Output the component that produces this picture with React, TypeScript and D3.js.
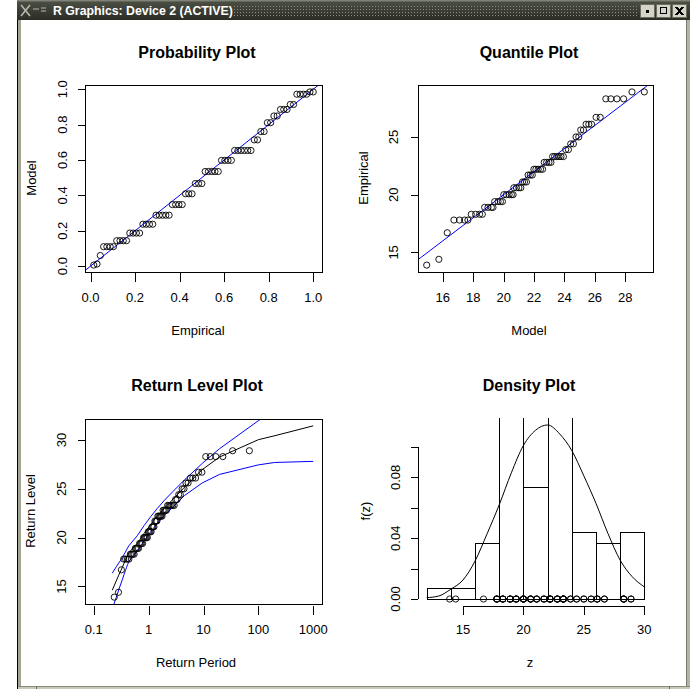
import React from "react";
import * as d3 from "d3";

// observed values (deg C) and how many times each one occurs
const tempValues = [13.9, 14.4, 16.7, 17.8, 18.3, 18.9, 19.4, 20.0, 20.6, 21.1, 21.7, 22.2, 22.8, 23.3, 23.9, 24.4, 25.0, 25.6, 26.1, 26.7, 28.3, 28.9];
const tempCounts = [1, 1, 1, 4, 4, 4, 4, 5, 4, 3, 3, 5, 4, 6, 2, 2, 2, 2, 3, 2, 4, 2];

// fitted model cdf at each distinct value (probability plot)
const modelProb = [0.006, 0.012, 0.06, 0.11, 0.144, 0.187, 0.237, 0.288, 0.348, 0.409, 0.467, 0.535, 0.598, 0.654, 0.714, 0.761, 0.811, 0.849, 0.886, 0.914, 0.972, 0.985];

// fitted model quantiles, one per ordered observation (quantile plot)
const modelQuantiles = [
  14.94, 15.74, 16.29, 16.73, 17.1, 17.43, 17.65, 17.87, 18.16, 18.42, 18.6, 18.75, 18.97, 19.19, 19.3,
  19.41, 19.63, 19.79, 19.92, 20.01, 20.18, 20.36, 20.51, 20.62, 20.67, 20.84, 21.0, 21.13, 21.24, 21.37,
  21.5, 21.61, 21.75, 21.88, 21.99, 22.12, 22.27, 22.43, 22.56, 22.67, 22.83, 22.98, 23.11, 23.22, 23.35,
  23.49, 23.64, 23.77, 23.93, 24.08, 24.26, 24.41, 24.59, 24.76, 24.94, 25.07, 25.25, 25.42, 25.6, 25.78,
  26.08, 26.35, 26.72, 27.05, 27.45, 27.89, 28.44, 29.25,
];

// return level curve with its 95% bounds
const returnPeriods = [0.217, 0.256, 0.285, 0.311, 0.334, 0.355, 0.376, 0.396, 0.415, 0.434, 0.621, 0.831, 1.091, 1.443, 1.958, 2.804, 4.481, 9.491, 19.5, 99.5, 199.5, 999.5];
const rlEstimate = [14.6, 15.55, 16.15, 16.6, 17.0, 17.35, 17.65, 17.95, 18.2, 18.45, 19.4, 20.45, 21.35, 22.2, 23.05, 23.95, 25.15, 26.97, 28.25, 30.03, 30.44, 31.45];
const rlUpper = [16.35, 17.0, 17.4, 17.7, 18.0, 18.27, 18.5, 18.75, 18.95, 19.15, 20.2, 21.25, 22.15, 23.0, 23.85, 24.75, 25.9, 27.6, 29.1, 31.97, 33.04, 35.75];
const rlLower = [12.7, 13.85, 14.65, 15.25, 15.75, 16.2, 16.6, 16.95, 17.25, 17.55, 18.6, 19.7, 20.6, 21.45, 22.3, 23.15, 24.3, 25.6, 26.47, 27.45, 27.7, 27.81];
const rlTicks = [0.1, 1, 10, 100, 1000];

// fitted density
const densityZ = [12, 13, 14, 15, 16, 17, 18, 19, 20, 21, 22, 23, 24, 25, 26, 27, 28, 29, 30];
const densityF = [0.0009, 0.002, 0.0065, 0.0125, 0.025, 0.043, 0.062, 0.083, 0.101, 0.111, 0.1145, 0.1086, 0.0977, 0.081, 0.063, 0.043, 0.0256, 0.0147, 0.008];
const histBreaks = [12, 14, 16, 18, 20, 22, 24, 26, 28, 30];

const FONT = "'Liberation Sans', Arial, Helvetica, sans-serif";
const BLUE = "#0000ff";

// R pads the data range by 4% on each side
function rRange(lo: number, hi: number): [number, number] {
  const d = (hi - lo) * 0.04;
  return [lo - d, hi + d];
}

type Box = { x0: number; x1: number; y0: number; y1: number };

const ppBox: Box = { x0: 85, x1: 322, y0: 85, y1: 272 };
const qqBox: Box = { x0: 418, x1: 653, y0: 85, y1: 272 };
const rlBox: Box = { x0: 85, x1: 322, y0: 419, y1: 604 };
const dnBox: Box = { x0: 418, x1: 653, y0: 418, y1: 606 };

function frame(b: Box) {
  return <rect x={b.x0 + 0.5} y={b.y0 + 0.5} width={b.x1 - b.x0} height={b.y1 - b.y0} fill="none" stroke="#000" shapeRendering="crispEdges" />;
}

function xAxis(scale: (v: number) => number, ticks: number[], labels: string[], top: number, labelY: number, withLine = false) {
  return (
    <g shapeRendering="crispEdges">
      {withLine && <line x1={scale(ticks[0])} x2={scale(ticks[ticks.length - 1])} y1={top + 0.5} y2={top + 0.5} stroke="#000" />}
      {ticks.map((t, i) => (
        <g key={i}>
          <line x1={Math.round(scale(t)) + 0.5} x2={Math.round(scale(t)) + 0.5} y1={top} y2={top + 9} stroke="#000" />
          {labels[i] && (
            <text x={scale(t)} y={labelY} textAnchor="middle" dominantBaseline="central" fontSize={13} fontFamily={FONT}>
              {labels[i]}
            </text>
          )}
        </g>
      ))}
    </g>
  );
}

function yAxis(scale: (v: number) => number, ticks: number[], labels: string[], left: number, labelX: number, withLine = false) {
  return (
    <g shapeRendering="crispEdges">
      {withLine && <line x1={left + 0.5} x2={left + 0.5} y1={scale(ticks[0])} y2={scale(ticks[ticks.length - 1])} stroke="#000" />}
      {ticks.map((t, i) => (
        <g key={i}>
          <line x1={left - 7} x2={left} y1={Math.round(scale(t)) + 0.5} y2={Math.round(scale(t)) + 0.5} stroke="#000" />
          {labels[i] && (
            <text transform={`translate(${labelX},${scale(t)}) rotate(-90)`} textAnchor="middle" dominantBaseline="central" fontSize={13} fontFamily={FONT}>
              {labels[i]}
            </text>
          )}
        </g>
      ))}
    </g>
  );
}

function label(x: number, y: number, text: string, rotate = false, bold = false, size = 13) {
  return (
    <text
      transform={`translate(${x},${y})${rotate ? " rotate(-90)" : ""}`}
      textAnchor="middle"
      dominantBaseline="central"
      fontSize={size}
      fontWeight={bold ? "bold" : "normal"}
      fontFamily={FONT}
    >
      {text}
    </text>
  );
}

export default function App() {
  const sample = tempValues.flatMap((v, i) => d3.range(tempCounts[i]).map(() => v));
  const sampleProb = tempValues.flatMap((v, i) => d3.range(tempCounts[i]).map(() => modelProb[i]));
  const n = sample.length;
  const empirical = sample.map((_, i) => (i + 1) / n);
  const empPeriod = sample.map((_, i) => -1 / Math.log((i + 1) / (n + 1)));

  // probability plot
  const ppX = d3.scaleLinear().domain(rRange(d3.min(empirical)!, d3.max(empirical)!)).range([ppBox.x0, ppBox.x1]);
  const ppY = d3.scaleLinear().domain(rRange(d3.min(sampleProb)!, d3.max(sampleProb)!)).range([ppBox.y1, ppBox.y0]);
  const unitTicks = [0, 0.2, 0.4, 0.6, 0.8, 1.0];
  const fmt1 = d3.format(".1f");

  // quantile plot
  const qqX = d3.scaleLinear().domain(rRange(d3.min(modelQuantiles)!, d3.max(modelQuantiles)!)).range([qqBox.x0, qqBox.x1]);
  const qqY = d3.scaleLinear().domain(rRange(d3.min(sample)!, d3.max(sample)!)).range([qqBox.y1, qqBox.y0]);
  const qqXTicks = [16, 18, 20, 22, 24, 26, 28];
  const qqYTicks = [15, 20, 25];

  // return level plot
  const lg = rRange(-1, 3);
  const rlX = d3.scaleLog().domain([Math.pow(10, lg[0]), Math.pow(10, lg[1])]).range([rlBox.x0, rlBox.x1]);
  const rlY = d3
    .scaleLinear()
    .domain(rRange(Math.min(d3.min(sample)!, d3.min(rlEstimate)!), Math.max(d3.max(sample)!, d3.max(rlEstimate)!)))
    .range([rlBox.y1, rlBox.y0]);
  const rlLine = (vals: number[]) =>
    d3
      .line<number>()
      .x((_, i) => rlX(returnPeriods[i]))
      .y((v) => rlY(v))(vals)!;

  // density plot
  const dnX = d3.scaleLinear().domain(rRange(histBreaks[0], histBreaks[histBreaks.length - 1])).range([dnBox.x0, dnBox.x1]);
  const dnY = d3.scaleLinear().domain(rRange(0, d3.max(densityF)!)).range([dnBox.y1, dnBox.y0]);
  // R bins are closed on the right
  const bins = d3
    .bin<number, number>()
    .value((d) => d - 1e-9)
    .domain([histBreaks[0], histBreaks[histBreaks.length - 1]])
    .thresholds(histBreaks.slice(1, -1))(sample);
  const densLine = d3
    .line<number>()
    .x((_, i) => dnX(densityZ[i]))
    .y((v) => dnY(v))
    .curve(d3.curveMonotoneX)(densityF)!;

  return (
    <svg width={690} height={689} style={{ position: "absolute", left: 0, top: 0, display: "block" }} fontFamily={FONT}>
      <defs>
        <linearGradient id="tbar" x1="0" y1="0" x2="0" y2="1">
          <stop offset="0" stopColor="#8e9084" />
          <stop offset="0.12" stopColor="#4a4d42" />
          <stop offset="1" stopColor="#2b2d25" />
        </linearGradient>
        <pattern id="dots" width="3" height="3" patternUnits="userSpaceOnUse">
          <rect width="1" height="1" fill="#8c8e82" />
        </pattern>
        {[ppBox, qqBox, rlBox, dnBox].map((b, i) => (
          <clipPath id={`clip${i}`} key={i}>
            <rect x={b.x0} y={b.y0} width={b.x1 - b.x0 + 1} height={b.y1 - b.y0 + 1} />
          </clipPath>
        ))}
      </defs>

      {/* window chrome */}
      <rect x={0} y={0} width={690} height={689} fill="#fff" />
      <rect x={17} y={0} width={673} height={20} fill="url(#tbar)" />
      <rect x={234} y={5} width={403} height={12} fill="url(#dots)" />
      <g stroke="#b8b8b0" strokeWidth={1.6}>
        <line x1={21} y1={5} x2={30} y2={16} />
        <line x1={30} y1={5} x2={21} y2={16} />
        <line x1={33} y1={9} x2={39} y2={9} strokeWidth={1} />
        <line x1={41} y1={8} x2={46} y2={8} strokeWidth={1} />
        <line x1={41} y1={11} x2={46} y2={11} strokeWidth={1} />
      </g>
      <text x={53} y={15} fontSize={12.3} fontWeight="bold" fill="#fff" fontFamily={FONT}>
        R Graphics: Device 2 (ACTIVE)
      </text>
      {[640, 656, 672].map((bx, i) => (
        <g key={i} shapeRendering="crispEdges">
          <rect x={bx + 0.5} y={4.5} width={14} height={13} fill="#d4d4c8" stroke="#6c6c60" />
          {i === 0 && <rect x={bx + 6} y={10} width={3} height={3} fill="#000" />}
          {i === 1 && <rect x={bx + 4.5} y={7.5} width={6} height={6} fill="none" stroke="#000" strokeWidth={1.6} />}
          {i === 2 && (
            <g stroke="#000" strokeWidth={2}>
              <line x1={bx + 4} y1={7} x2={bx + 11} y2={15} />
              <line x1={bx + 11} y1={7} x2={bx + 4} y2={15} />
            </g>
          )}
        </g>
      ))}
      <g shapeRendering="crispEdges">
        <rect x={17} y={20} width={1} height={669} fill="#000" />
        <rect x={18} y={20} width={3} height={669} fill="#a4a494" />
        <rect x={686} y={20} width={4} height={669} fill="#b4b4a6" />
        <rect x={686} y={20} width={1} height={669} fill="#7c7c70" />
        <rect x={18} y={686} width={672} height={3} fill="#c8c8b8" />
        <rect x={18} y={686} width={672} height={1} fill="#8a8a7c" />
        <rect x={36} y={686} width={1} height={3} fill="#6c6c60" />
        <rect x={669} y={686} width={1} height={3} fill="#6c6c60" />
      </g>

      {/* Probability Plot */}
      {label(197, 52, "Probability Plot", false, true, 16)}
      <g clipPath="url(#clip0)">
        <line x1={ppX(ppX.domain()[0])} y1={ppY(ppX.domain()[0])} x2={ppX(ppX.domain()[1])} y2={ppY(ppX.domain()[1])} stroke={BLUE} />
      </g>
      {sample.map((_, i) => (
        <circle key={i} cx={ppX(empirical[i])} cy={ppY(sampleProb[i])} r={3.1} fill="none" stroke="#000" strokeWidth={0.9} />
      ))}
      {frame(ppBox)}
      {xAxis(ppX, unitTicks, unitTicks.map(fmt1), ppBox.y1 + 1, 297)}
      {yAxis(ppY, unitTicks, unitTicks.map(fmt1), ppBox.x0, 62)}
      {label(198, 330, "Empirical")}
      {label(31, 178, "Model", true)}

      {/* Quantile Plot */}
      {label(529, 52, "Quantile Plot", false, true, 16)}
      <g clipPath="url(#clip1)">
        <line x1={qqX(qqX.domain()[0])} y1={qqY(qqX.domain()[0])} x2={qqX(qqX.domain()[1])} y2={qqY(qqX.domain()[1])} stroke={BLUE} />
      </g>
      {sample.map((v, i) => (
        <circle key={i} cx={qqX(modelQuantiles[i])} cy={qqY(v)} r={3.1} fill="none" stroke="#000" strokeWidth={0.9} />
      ))}
      {frame(qqBox)}
      {xAxis(qqX, qqXTicks, qqXTicks.map(String), qqBox.y1 + 1, 297)}
      {yAxis(qqY, qqYTicks, qqYTicks.map(String), qqBox.x0, 393.5)}
      {label(529, 330, "Model")}
      {label(363, 178, "Empirical", true)}

      {/* Return Level Plot */}
      {label(197, 385, "Return Level Plot", false, true, 16)}
      <g clipPath="url(#clip2)" fill="none">
        <path d={rlLine(rlEstimate)} stroke="#000" />
        <path d={rlLine(rlUpper)} stroke={BLUE} />
        <path d={rlLine(rlLower)} stroke={BLUE} />
      </g>
      {sample.map((v, i) => (
        <circle key={i} cx={rlX(empPeriod[i])} cy={rlY(v)} r={3.1} fill="none" stroke="#000" strokeWidth={0.9} />
      ))}
      {frame(rlBox)}
      {xAxis(rlX, rlTicks, rlTicks.map(String), rlBox.y1 + 2, 629)}
      {yAxis(rlY, [15, 20, 25, 30], ["15", "20", "25", "30"], rlBox.x0, 61)}
      {label(196, 662, "Return Period")}
      {label(30, 511, "Return Level", true)}

      {/* Density Plot */}
      {label(529, 385, "Density Plot", false, true, 16)}
      <g clipPath="url(#clip3)">
        {bins.map((b, i) => (
          <rect
            key={i}
            x={Math.round(dnX(b.x0!)) + 0.5}
            y={Math.round(dnY(b.length / (n * (b.x1! - b.x0!)))) + 0.5}
            width={Math.round(dnX(b.x1!)) - Math.round(dnX(b.x0!))}
            height={Math.round(dnY(0)) - Math.round(dnY(b.length / (n * (b.x1! - b.x0!))))}
            fill="none"
            stroke="#000"
            shapeRendering="crispEdges"
          />
        ))}
        <path d={densLine} fill="none" stroke="#000" />
      </g>
      {sample.map((v, i) => (
        <circle key={i} cx={dnX(v)} cy={dnY(0)} r={3.1} fill="none" stroke="#000" strokeWidth={0.9} />
      ))}
      {xAxis(dnX, [15, 20, 25, 30], ["15", "20", "25", "30"], dnBox.y1, 629, true)}
      {yAxis(dnY, [0, 0.02, 0.04, 0.06, 0.08, 0.1], ["0.00", "", "0.04", "", "0.08", ""], dnBox.x0, 395, true)}
      {label(530, 662, "z")}
      {label(365, 511, "f(z)", true)}
    </svg>
  );
}
